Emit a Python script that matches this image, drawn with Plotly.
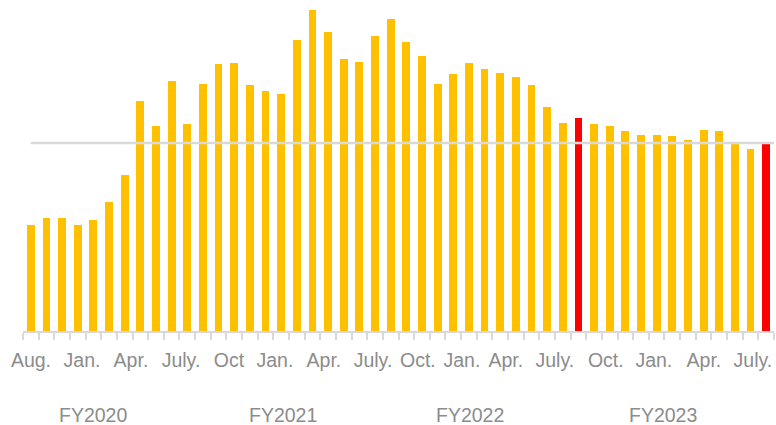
import plotly.graph_objects as go

# ---- data ----
months = ["Aug-19","Sep-19","Oct-19","Nov-19","Dec-19","Jan-20","Feb-20","Mar-20","Apr-20","May-20","Jun-20","Jul-20",
          "Aug-20","Sep-20","Oct-20","Nov-20","Dec-20","Jan-21","Feb-21","Mar-21","Apr-21","May-21","Jun-21","Jul-21",
          "Aug-21","Sep-21","Oct-21","Nov-21","Dec-21","Jan-22","Feb-22","Mar-22","Apr-22","May-22","Jun-22","Jul-22",
          "Aug-22","Sep-22","Oct-22","Nov-22","Dec-22","Jan-23","Feb-23","Mar-23","Apr-23","May-23","Jun-23","Jul-23"]
values = [56.4, 59.9, 60.3, 56.4, 59.0, 68.8, 83.1, 122.3, 109.0, 133.0, 110.1, 131.2,
          142.2, 142.4, 130.7, 127.7, 126.1, 154.6, 170.9, 158.9, 144.8, 143.1, 156.9, 166.1,
          153.6, 146.3, 131.4, 136.7, 142.7, 139.5, 137.4, 135.1, 131.0, 119.0, 110.6, 113.1,
          110.1, 108.9, 106.4, 104.4, 104.1, 103.7, 101.4, 106.9, 106.4, 99.5, 96.6, 99.5]
highlight = ["Jul-22", "Jul-23"]
reference_level = 100

tick_text = ["Aug.", "Jan.", "Apr.", "July.", "Oct", "Jan.", "Apr.", "July.",
             "Oct.", "Jan.", "Apr.", "July.", "Oct.", "Jan.", "Apr.", "July."]
tick_pos = [0.01, 3.27, 6.40, 9.60, 12.66, 15.60, 18.73, 21.87,
            24.74, 27.55, 30.36, 33.49, 36.75, 39.82, 43.02, 46.15]
fy_labels = ["FY2020", "FY2021", "FY2022", "FY2023"]
fy_pos = [3.96, 16.1, 28.1, 40.4]

# ---- styles ----
GOLD = "#FFC000"
RED = "#FF0000"
GRAY_TXT = "#8C8C8C"
GRAY_LINE = "#D9D9D9"
FONT = "Liberation Sans, Arial, sans-serif"

x_idx = list(range(len(months)))
colors = [RED if m in highlight else GOLD for m in months]

fig = go.Figure()
fig.add_trace(go.Bar(
    x=x_idx, y=values, width=0.5,
    marker=dict(color=colors, line=dict(width=0)),
    hovertext=months, hoverinfo="text+y",
))

fig.add_shape(type="line", xref="x", yref="y", x0=0, x1=47.5,
              y0=reference_level, y1=reference_level,
              line=dict(color=GRAY_LINE, width=2.5), layer="above")

for lab, p in zip(fy_labels, fy_pos):
    fig.add_annotation(text=lab, x=p, xref="x", y=0, yref="paper",
                       yshift=-84, showarrow=False, yanchor="middle",
                       font=dict(family=FONT, size=19.5, color=GRAY_TXT))

fig.update_layout(
    width=776, height=425,
    margin=dict(l=23, r=2, t=0, b=94),
    plot_bgcolor="white", paper_bgcolor="white",
    showlegend=False,
    bargap=0,
    font=dict(family=FONT, color=GRAY_TXT),
)
fig.update_xaxes(
    range=[-0.5, 47.5],
    tickvals=tick_pos, ticktext=tick_text,
    ticks="outside", ticklen=0, tickcolor="white",
    tickfont=dict(family=FONT, size=19.5, color=GRAY_TXT),
    ticklabelstandoff=11,
    showline=True, linecolor=GRAY_LINE, linewidth=2,
    showgrid=False, zeroline=False,
    minor=dict(tick0=-0.5, dtick=1, ticks="outside", ticklen=7,
               tickcolor=GRAY_LINE, tickwidth=1.5, showgrid=False),
)
fig.update_yaxes(range=[0, 176.06], visible=False, showgrid=False, zeroline=False)

fig.write_html("out.html", config={"displayModeBar": False},
               post_script="document.body.style.margin='0';document.body.style.overflow='hidden';")
